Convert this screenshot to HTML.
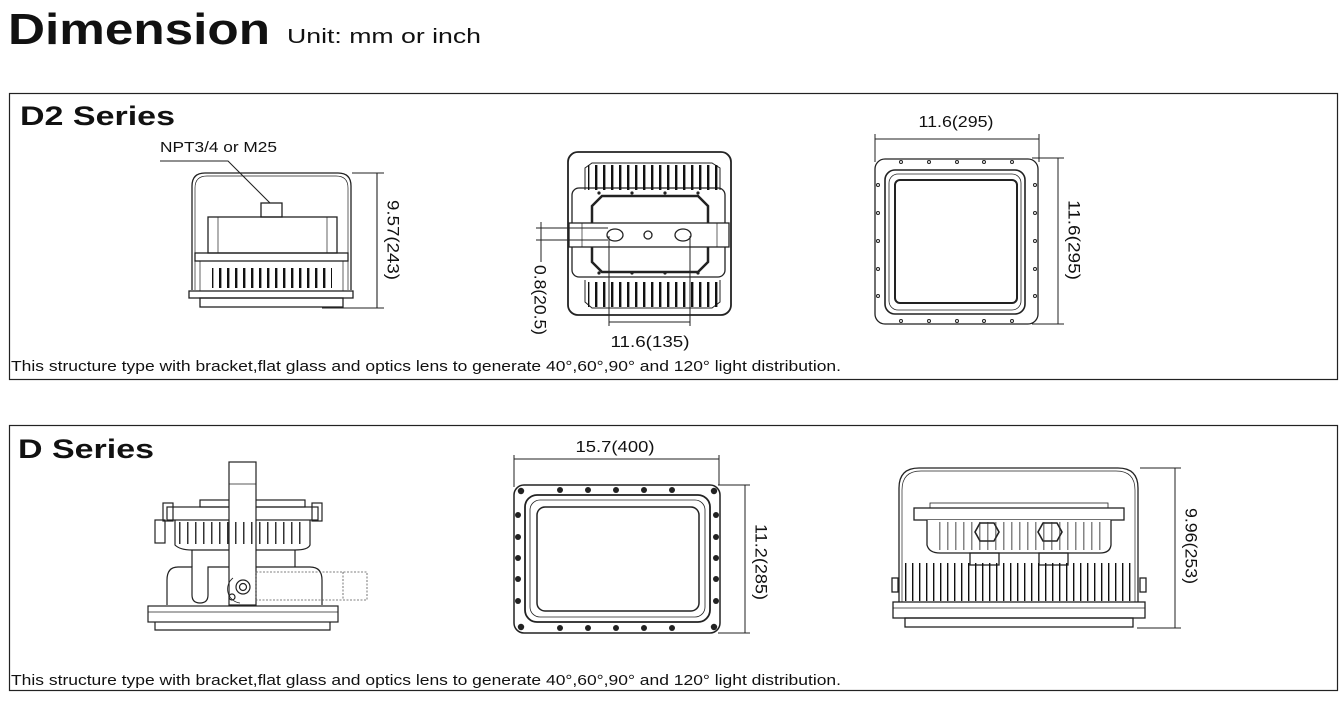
<!DOCTYPE html>
<html><head><meta charset="utf-8"><style>
html,body{margin:0;padding:0;background:#fff;width:1343px;height:703px;overflow:hidden}
svg{display:block}
text{font-family:"Liberation Sans",Arial,sans-serif;fill:#111}
</style></head><body>
<svg width="1343" height="703" viewBox="0 0 1343 703" xmlns="http://www.w3.org/2000/svg">
<defs>
<pattern id="fin" width="8" height="40" patternUnits="userSpaceOnUse"><rect x="3" y="0" width="2.4" height="40" fill="#111"/></pattern>
<pattern id="fin2" width="7" height="40" patternUnits="userSpaceOnUse"><rect x="2" y="0" width="1.4" height="40" fill="#111"/></pattern>
<pattern id="fin3" width="8" height="40" patternUnits="userSpaceOnUse"><rect x="3" y="0" width="1.5" height="40" fill="#333"/></pattern>
</defs>
<text x="8" y="44" font-size="44" font-weight="bold" textLength="262" lengthAdjust="spacingAndGlyphs">Dimension</text>
<text x="287" y="43" font-size="20" textLength="194" lengthAdjust="spacingAndGlyphs">Unit: mm or inch</text>

<g fill="none" stroke="#222" stroke-width="1.2">
<rect x="9.5" y="93.5" width="1328" height="286"/>
<rect x="9.5" y="425.5" width="1328" height="265"/>
</g>
<text x="20" y="125" font-size="27" font-weight="bold" textLength="155" lengthAdjust="spacingAndGlyphs">D2 Series</text>
<text x="11" y="371" font-size="14.5" textLength="830" lengthAdjust="spacingAndGlyphs">This structure type with bracket,flat glass and optics lens to generate 40°,60°,90° and 120° light distribution.</text>
<text x="18" y="458" font-size="27" font-weight="bold" textLength="136" lengthAdjust="spacingAndGlyphs">D Series</text>
<text x="11" y="685" font-size="14.5" textLength="830" lengthAdjust="spacingAndGlyphs">This structure type with bracket,flat glass and optics lens to generate 40°,60°,90° and 120° light distribution.</text>

<!-- D2 side view -->
<g fill="none" stroke="#222" stroke-width="1.3">
<path d="M192 290 V186 Q192 173 205 173 H338 Q351 173 351 186 V290"/>
<path d="M195 290 V188 Q195 176 207 176 H336 Q348 176 348 188 V290" stroke-width="0.7"/>
<rect x="261" y="203" width="21" height="14"/>
<rect x="208" y="217" width="129" height="36"/>
<line x1="218" y1="217" x2="218" y2="253" stroke-width="0.7"/><line x1="327" y1="217" x2="327" y2="253" stroke-width="0.7"/>
<rect x="195" y="253" width="153" height="8"/>
<rect x="200" y="261" width="143" height="30" stroke-width="0.7"/>
<rect x="189" y="291" width="164" height="7"/>
<rect x="200" y="298" width="143" height="9"/>
</g>
<rect x="212" y="268" width="120" height="20" fill="url(#fin)"/>
<text x="160" y="152" font-size="15" textLength="117" lengthAdjust="spacingAndGlyphs">NPT3/4 or M25</text>
<polyline points="160,161 228,161 270,203" fill="none" stroke="#222" stroke-width="1.1"/>
<g stroke="#222" stroke-width="1.1"><line x1="377" y1="173" x2="377" y2="308"/><line x1="352" y1="173" x2="384" y2="173"/><line x1="322" y1="308" x2="384" y2="308"/></g>
<text transform="translate(393 240) rotate(90)" font-size="17" text-anchor="middle" dominant-baseline="central" textLength="80" lengthAdjust="spacingAndGlyphs">9.57(243)</text>

<!-- D2 rear view -->
<g fill="none" stroke="#222" stroke-width="1.3">
<rect x="568" y="152" width="163" height="163" rx="10" stroke-width="1.8"/>
<path d="M585 190 V168 L592 163 H712 L720 168 V190" stroke-width="1"/>
<path d="M585 280 V302 L592 308 H712 L720 302 V280" stroke-width="1"/>
<rect x="572" y="188" width="153" height="89" rx="7"/>
<path d="M592 206 L602 196 H698 L708 206 V262 L698 272 H602 L592 262 Z" stroke-width="2.5"/>
<rect x="569" y="223" width="160" height="24" fill="#fff"/>
<line x1="582" y1="223" x2="582" y2="247" stroke-width="0.7"/><line x1="717" y1="223" x2="717" y2="247" stroke-width="0.7"/>
<ellipse cx="615" cy="235" rx="8" ry="6"/><circle cx="648" cy="235" r="4"/><ellipse cx="683" cy="235" rx="8" ry="6"/>
</g>
<rect x="588" y="165" width="130" height="25" fill="url(#fin)"/>
<rect x="588" y="282" width="130" height="25" fill="url(#fin)"/>
<g fill="#222"><circle cx="599" cy="193" r="1.6"/><circle cx="632" cy="193" r="1.6"/><circle cx="665" cy="193" r="1.6"/><circle cx="698" cy="193" r="1.6"/>
<circle cx="599" cy="273" r="1.6"/><circle cx="632" cy="273" r="1.6"/><circle cx="665" cy="273" r="1.6"/><circle cx="698" cy="273" r="1.6"/></g>
<g stroke="#222" stroke-width="1"><line x1="536" y1="228" x2="608" y2="228"/><line x1="536" y1="240" x2="608" y2="240"/><line x1="541" y1="222" x2="541" y2="262"/>
<line x1="609" y1="236" x2="609" y2="326"/><line x1="690" y1="236" x2="690" y2="326"/><line x1="609" y1="322" x2="690" y2="322"/></g>
<text transform="translate(540 300) rotate(90)" font-size="17" text-anchor="middle" dominant-baseline="central" textLength="70" lengthAdjust="spacingAndGlyphs">0.8(20.5)</text>
<text x="650" y="347" font-size="16" text-anchor="middle" textLength="79" lengthAdjust="spacingAndGlyphs">11.6(135)</text>

<!-- D2 front view -->
<g fill="none" stroke="#222" stroke-width="1.3">
<rect x="875" y="159" width="163" height="165" rx="10"/>
<rect x="885" y="170" width="140" height="144" rx="10" stroke-width="1.6"/>
<rect x="889" y="174" width="132" height="136" rx="9" stroke-width="0.8"/>
<rect x="895" y="180" width="122" height="123" rx="5" stroke-width="2"/>
</g>
<g fill="none" stroke="#222" stroke-width="1">
<circle cx="901" cy="162" r="1.5"/><circle cx="929" cy="162" r="1.5"/><circle cx="957" cy="162" r="1.5"/><circle cx="984" cy="162" r="1.5"/><circle cx="1012" cy="162" r="1.5"/>
<circle cx="901" cy="321" r="1.5"/><circle cx="929" cy="321" r="1.5"/><circle cx="957" cy="321" r="1.5"/><circle cx="984" cy="321" r="1.5"/><circle cx="1012" cy="321" r="1.5"/>
<circle cx="878" cy="185" r="1.5"/><circle cx="878" cy="213" r="1.5"/><circle cx="878" cy="241" r="1.5"/><circle cx="878" cy="269" r="1.5"/><circle cx="878" cy="296" r="1.5"/>
<circle cx="1035" cy="185" r="1.5"/><circle cx="1035" cy="213" r="1.5"/><circle cx="1035" cy="241" r="1.5"/><circle cx="1035" cy="269" r="1.5"/><circle cx="1035" cy="296" r="1.5"/>
</g>
<g stroke="#222" stroke-width="1"><line x1="875" y1="139" x2="1039" y2="139"/><line x1="875" y1="134" x2="875" y2="162"/><line x1="1039" y1="134" x2="1039" y2="162"/>
<line x1="1058" y1="158" x2="1058" y2="324"/><line x1="1032" y1="158" x2="1064" y2="158"/><line x1="1032" y1="324" x2="1064" y2="324"/></g>
<text x="956" y="127" font-size="16" text-anchor="middle" textLength="75" lengthAdjust="spacingAndGlyphs">11.6(295)</text>
<text transform="translate(1074 240) rotate(90)" font-size="17" text-anchor="middle" dominant-baseline="central" textLength="80" lengthAdjust="spacingAndGlyphs">11.6(295)</text>

<!-- D side view -->
<g fill="none" stroke="#222" stroke-width="1.2">
<rect x="200" y="500" width="105" height="7"/>
<rect x="167" y="507" width="151" height="13"/>
<rect x="163" y="503" width="10" height="18"/><rect x="312" y="503" width="10" height="18"/>
<path d="M175 520 V545 Q180 550 192 550 H295 Q308 550 310 545 V520"/>
<rect x="155" y="520" width="10" height="23"/>
<path d="M192 550 V567 M295 550 V567"/>
<path d="M167 605 V580 Q167 567 178 567 H192 V595 Q192 603 200 603 Q208 603 208 595 V567 H310 Q322 567 322 580 V605"/>
<rect x="148" y="606" width="190" height="16"/>
<line x1="148" y1="612" x2="338" y2="612" stroke-width="0.7"/>
<path d="M155 622 V630 H330 V622"/>
<rect x="229" y="462" width="27" height="143" fill="#fff"/>
<line x1="229" y1="484" x2="256" y2="484" stroke-width="0.8"/>
<circle cx="243" cy="587" r="7"/><circle cx="243" cy="587" r="3.5"/>
<circle cx="232" cy="597" r="3"/>
<path d="M233 578 A14 14 0 0 0 240 603" stroke-width="0.8"/>
</g>
<rect x="178" y="522" width="128" height="22" fill="url(#fin3)"/>
<g fill="none" stroke="#555" stroke-width="0.8" stroke-dasharray="2,1.5"><rect x="256" y="572" width="111" height="28"/><line x1="343" y1="572" x2="343" y2="600"/></g>

<!-- D front view -->
<g fill="none" stroke="#222">
<rect x="514" y="485" width="206" height="148" rx="10" stroke-width="1.5"/>
<rect x="525" y="495" width="185" height="127" rx="12" stroke-width="1.8"/>
<rect x="530" y="500" width="175" height="117" rx="10" stroke-width="0.8"/>
<rect x="537" y="507" width="162" height="104" rx="8" stroke-width="1.5"/>
</g>
<g fill="#222">
<circle cx="521" cy="491" r="3.2"/><circle cx="714" cy="491" r="3.2"/><circle cx="521" cy="627" r="3.2"/><circle cx="714" cy="627" r="3.2"/>
<circle cx="560" cy="490" r="3"/><circle cx="588" cy="490" r="3"/><circle cx="616" cy="490" r="3"/><circle cx="644" cy="490" r="3"/><circle cx="672" cy="490" r="3"/>
<circle cx="560" cy="628" r="3"/><circle cx="588" cy="628" r="3"/><circle cx="616" cy="628" r="3"/><circle cx="644" cy="628" r="3"/><circle cx="672" cy="628" r="3"/>
<circle cx="518" cy="515" r="3"/><circle cx="518" cy="537" r="3"/><circle cx="518" cy="558" r="3"/><circle cx="518" cy="579" r="3"/><circle cx="518" cy="601" r="3"/>
<circle cx="716" cy="515" r="3"/><circle cx="716" cy="537" r="3"/><circle cx="716" cy="558" r="3"/><circle cx="716" cy="579" r="3"/><circle cx="716" cy="601" r="3"/>
</g>
<g stroke="#222" stroke-width="1"><line x1="514" y1="459" x2="719" y2="459"/><line x1="514" y1="455" x2="514" y2="487"/><line x1="719" y1="455" x2="719" y2="485"/>
<line x1="745" y1="485" x2="745" y2="633"/><line x1="718" y1="485" x2="750" y2="485"/><line x1="718" y1="633" x2="750" y2="633"/></g>
<text x="615" y="452" font-size="16" text-anchor="middle" textLength="79" lengthAdjust="spacingAndGlyphs">15.7(400)</text>
<text transform="translate(761 562) rotate(90)" font-size="17" text-anchor="middle" dominant-baseline="central" textLength="76" lengthAdjust="spacingAndGlyphs">11.2(285)</text>

<!-- D rear view -->
<g fill="none" stroke="#222" stroke-width="1.3">
<path d="M899 602 V488 Q899 468 919 468 H1118 Q1138 468 1138 488 V602"/>
<path d="M902 602 V490 Q902 471 921 471 H1116 Q1135 471 1135 490 V602" stroke-width="0.7"/>
<rect x="930" y="503" width="178" height="5" stroke-width="0.8"/>
<rect x="914" y="508" width="210" height="12" fill="#fff"/>
<path d="M927 520 V545 Q929 553 940 553 H1100 Q1110 553 1111 545 V520" fill="#fff"/>
<rect x="970" y="553" width="29" height="12"/><rect x="1039" y="553" width="29" height="12"/>
<polygon points="980,523 994,523 999,532 994,541 980,541 975,532" stroke-width="1.6" fill="#fff"/>
<polygon points="1043,523 1057,523 1062,532 1057,541 1043,541 1038,532" stroke-width="1.6" fill="#fff"/>
<rect x="893" y="602" width="252" height="16"/>
<line x1="893" y1="608" x2="1145" y2="608" stroke-width="0.7"/>
<rect x="905" y="618" width="228" height="9"/>
<rect x="892" y="578" width="6" height="14"/><rect x="1140" y="578" width="6" height="14"/>
</g>
<rect x="905" y="563" width="230" height="38" fill="url(#fin2)"/>
<rect x="935" y="522" width="170" height="28" fill="url(#fin3)" opacity="0.6"/>
<g stroke="#222" stroke-width="1"><line x1="1175" y1="468" x2="1175" y2="628"/><line x1="1140" y1="468" x2="1181" y2="468"/><line x1="1137" y1="628" x2="1181" y2="628"/></g>
<text transform="translate(1191 546) rotate(90)" font-size="17" text-anchor="middle" dominant-baseline="central" textLength="76" lengthAdjust="spacingAndGlyphs">9.96(253)</text>
</svg>
</body></html>
